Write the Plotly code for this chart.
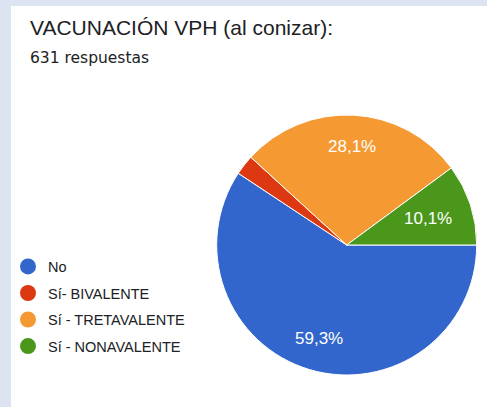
import math
import plotly.graph_objects as go

# Data
categories = ["No", "Sí- BIVALENTE", "Sí - TRETAVALENTE", "Sí - NONAVALENTE"]
percentages = [59.3, 2.5, 28.1, 10.1]
slice_labels = ["59,3%", "", "28,1%", "10,1%"]
colors = ["#3366CC", "#DC3912", "#F59A33", "#4B971C"]
title_text = "VACUNACIÓN VPH (al conizar):"
subtitle_text = "631 respuestas"

# Styling / layout (pixels)
W, H = 487, 407
pie_cx, pie_cy, pie_r = 346.7, 245.0, 130.0
start_angle = 90.0  # degrees clockwise from 12 o'clock
label_radius = [0.75, 0.0, 0.76, 0.66]


def px_x(v):
    return v / W


def px_y(v):
    return 1 - v / H


fig = go.Figure()

fig.add_trace(go.Pie(
    labels=categories,
    values=percentages,
    textinfo="none",
    marker=dict(colors=colors, line=dict(color="white", width=1)),
    sort=False,
    direction="clockwise",
    rotation=start_angle,
    showlegend=False,
    hoverinfo="label+percent",
    domain=dict(x=[px_x(pie_cx - pie_r), px_x(pie_cx + pie_r)],
                y=[px_y(pie_cy + pie_r), px_y(pie_cy - pie_r)]),
))

for i, (cat, col) in enumerate(zip(categories, colors)):
    fig.add_trace(go.Scatter(
        x=[None], y=[None], mode="markers", name=cat,
        legendgroup=f"g{i}",
        marker=dict(color=col, size=16, symbol="circle"),
        showlegend=True,
    ))

# Slice labels placed along each slice's mid-angle
annotations = []
total = sum(percentages)
cum = 0.0
for val, lab, rf in zip(percentages, slice_labels, label_radius):
    mid = start_angle + (cum + val / 2) / total * 360.0
    cum += val
    if not lab:
        continue
    a = math.radians(mid)
    x = pie_cx + rf * pie_r * math.sin(a)
    y = pie_cy - rf * pie_r * math.cos(a)
    annotations.append(dict(
        text=lab, x=px_x(x), y=px_y(y), xref="paper", yref="paper",
        xanchor="center", yanchor="middle", showarrow=False,
        font=dict(family="Liberation Sans, Arial", size=17, color="white")))

annotations += [
    dict(text=title_text, x=px_x(28), y=px_y(27.5), xref="paper", yref="paper",
         xanchor="left", yanchor="middle", showarrow=False,
         font=dict(family="Liberation Sans, Arial", size=21, color="#202124")),
    dict(text=subtitle_text, x=px_x(28), y=px_y(58), xref="paper", yref="paper",
         xanchor="left", yanchor="middle", showarrow=False,
         font=dict(family="DejaVu Sans", size=15.5, color="#202124")),
]

fig.update_layout(
    width=W, height=H,
    margin=dict(l=0, r=0, t=0, b=0),
    paper_bgcolor="#DCE4F2",
    plot_bgcolor="rgba(0,0,0,0)",
    xaxis=dict(visible=False),
    yaxis=dict(visible=False),
    shapes=[dict(type="rect", xref="paper", yref="paper",
                 x0=px_x(11), x1=1.01, y0=-0.01, y1=px_y(6),
                 fillcolor="white", line=dict(width=0), layer="below")],
    legend=dict(
        x=px_x(8), y=px_y(250.5), xanchor="left", yanchor="top",
        bgcolor="rgba(0,0,0,0)",
        font=dict(family="Liberation Sans, Arial", size=14.5, color="#202124"),
        tracegroupgap=4.7,
        itemclick=False,
    ),
    annotations=annotations,
)

fig.write_html("out.html")
